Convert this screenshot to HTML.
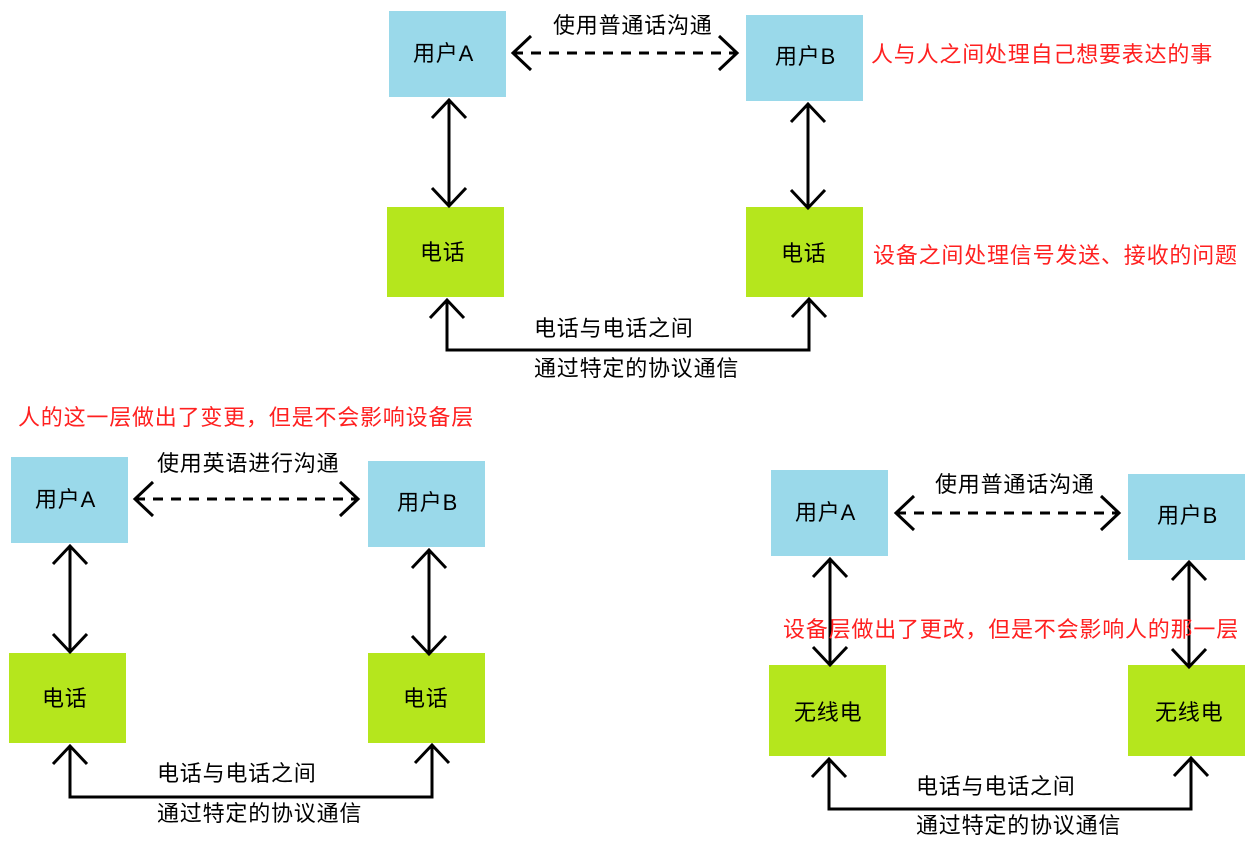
<!DOCTYPE html>
<html><head><meta charset="utf-8"><style>
html,body{margin:0;padding:0;background:#fff;}
svg text{font-family:"Liberation Sans","Noto Sans CJK SC",sans-serif;font-size:22px;letter-spacing:0.8px;}
</style></head><body>
<svg width="1250" height="837" viewBox="0 0 1250 837" xmlns="http://www.w3.org/2000/svg">
<defs>
<marker id="a" viewBox="-2 -2 24 40" refX="18" refY="17" markerWidth="24" markerHeight="40" markerUnits="userSpaceOnUse" orient="auto-start-reverse">
<path d="M0,0 L18,17 L0,34" fill="none" stroke="#000" stroke-width="3"/>
</marker>
</defs>
<g fill="#9ad9ea">
<rect x="389" y="11" width="117" height="86"/>
<rect x="746" y="15" width="117" height="86"/>
<rect x="11" y="457" width="117" height="86"/>
<rect x="368" y="461" width="117" height="86"/>
<rect x="771" y="470" width="117" height="86"/>
<rect x="1128" y="474" width="117" height="86"/>
</g>
<g fill="#b5e61d">
<rect x="387" y="207" width="117" height="90"/>
<rect x="746" y="207" width="117" height="90"/>
<rect x="9" y="653" width="117" height="90"/>
<rect x="368" y="653" width="117" height="90"/>
<rect x="769" y="665" width="117" height="91"/>
<rect x="1128" y="665" width="117" height="91"/>
</g>
<g stroke="#000" stroke-width="3" fill="none">
<line x1="513" y1="53" x2="737" y2="53" stroke-dasharray="10,8" marker-start="url(#a)" marker-end="url(#a)"/>
<line x1="449" y1="100" x2="449" y2="206" marker-start="url(#a)" marker-end="url(#a)"/>
<line x1="808" y1="104" x2="808" y2="208" marker-start="url(#a)" marker-end="url(#a)"/>
<polyline points="447,300 447,350 809,350 809,299" marker-start="url(#a)" marker-end="url(#a)"/>

<line x1="135" y1="499" x2="358" y2="499" stroke-dasharray="10,8" marker-start="url(#a)" marker-end="url(#a)"/>
<line x1="70" y1="546" x2="70" y2="652" marker-start="url(#a)" marker-end="url(#a)"/>
<line x1="429" y1="550" x2="429" y2="654" marker-start="url(#a)" marker-end="url(#a)"/>
<polyline points="70,746 70,797 432,797 432,745" marker-start="url(#a)" marker-end="url(#a)"/>

<line x1="896" y1="513" x2="1119" y2="513" stroke-dasharray="10,8" marker-start="url(#a)" marker-end="url(#a)"/>
<line x1="830" y1="559" x2="830" y2="665" marker-start="url(#a)" marker-end="url(#a)"/>
<line x1="1189" y1="562" x2="1189" y2="667" marker-start="url(#a)" marker-end="url(#a)"/>
<polyline points="829,759 829,809 1191,809 1191,758" marker-start="url(#a)" marker-end="url(#a)"/>
</g>
<g fill="#000">
<text x="413" y="61">用户A</text>
<text x="775" y="64">用户B</text>
<text x="420" y="260">电话</text>
<text x="781" y="261">电话</text>
<text x="553" y="33">使用普通话沟通</text>
<text x="534" y="336">电话与电话之间</text>
<text x="534" y="376">通过特定的协议通信</text>

<text x="35" y="507">用户A</text>
<text x="397" y="510">用户B</text>
<text x="42" y="706">电话</text>
<text x="403" y="706">电话</text>
<text x="157" y="471">使用英语进行沟通</text>
<text x="157" y="781">电话与电话之间</text>
<text x="157" y="821">通过特定的协议通信</text>

<text x="795" y="520">用户A</text>
<text x="1157" y="523">用户B</text>
<text x="794" y="720">无线电</text>
<text x="1155" y="720">无线电</text>
<text x="935" y="492">使用普通话沟通</text>
<text x="916" y="794">电话与电话之间</text>
<text x="916" y="833">通过特定的协议通信</text>
</g>
<g fill="#ff2020">
<text x="871" y="62">人与人之间处理自己想要表达的事</text>
<text x="873" y="263">设备之间处理信号发送、接收的问题</text>
<text x="18" y="425">人的这一层做出了变更，但是不会影响设备层</text>
<text x="783" y="637">设备层做出了更改，但是不会影响人的那一层</text>
</g>
</svg>
</body></html>
